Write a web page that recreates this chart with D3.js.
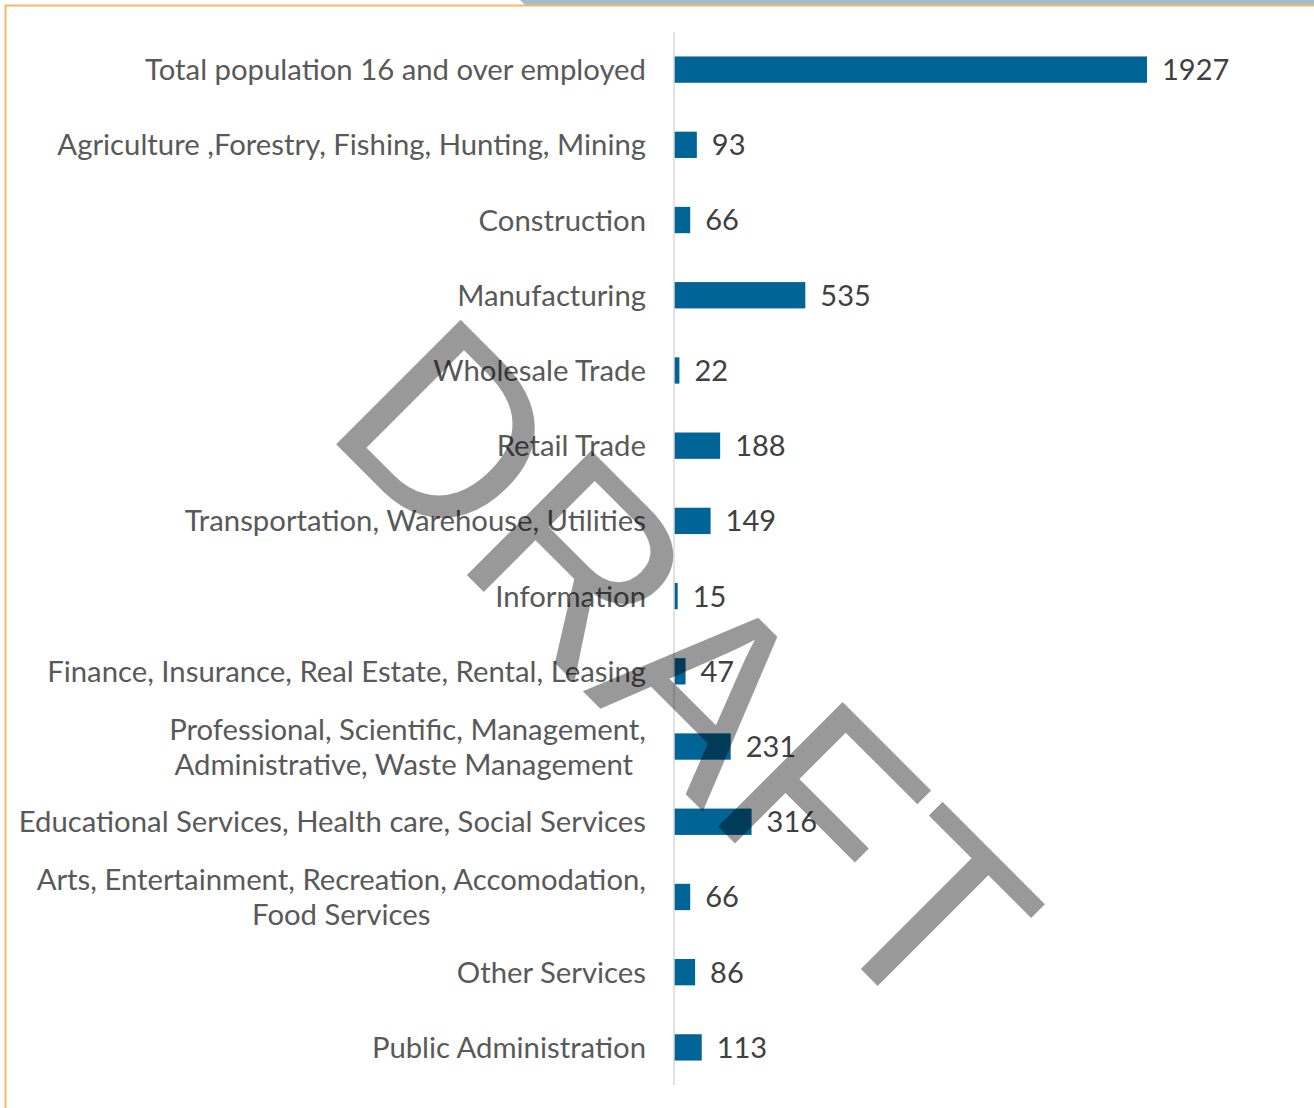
<!DOCTYPE html>
<html>
<head>
<meta charset="utf-8">
<script src="https://cdn.jsdelivr.net/npm/d3@7"></script>
<style>
  body { margin: 0; background: #ffffff; }
  text { font-family: Lato, "Open Sans", sans-serif; }
</style>
</head>
<body>
<script>
// industry categories, top to bottom
const categories = [
  "Total population 16 and over employed",
  "Agriculture ,Forestry, Fishing, Hunting, Mining",
  "Construction",
  "Manufacturing",
  "Wholesale Trade",
  "Retail Trade",
  "Transportation, Warehouse, Utilities",
  "Information",
  "Finance, Insurance, Real Estate, Rental, Leasing",
  "Professional, Scientific, Management,\nAdministrative, Waste Management ",
  "Educational Services, Health care, Social Services",
  "Arts, Entertainment, Recreation, Accomodation,\nFood Services",
  "Other Services",
  "Public Administration"
];
const values = [1927, 93, 66, 535, 22, 188, 149, 15, 47, 231, 316, 66, 86, 113];

const width = 1314, height = 1108;

const svg = d3.select("body").append("svg")
  .attr("width", width)
  .attr("height", height);

// strip of the page background above the frame
svg.append("path")
  .attr("d", "M 520 0 L 1314 0 L 1314 6 L 526 6 Z")
  .attr("fill", "#9fbfcc");

// orange frame
svg.append("path")
  .attr("d", "M 5.5 1108 V 5.5 H 1314")
  .attr("stroke", "#f5b868")
  .attr("stroke-width", 2)
  .attr("fill", "none");

const x = d3.scaleLinear()
  .domain([0, 1927])
  .range([674, 1147]);

const y = d3.scaleBand()
  .domain(categories)
  .range([32, 1085])
  .paddingInner(0.65)
  .paddingOuter(0.325);

// bars
svg.selectAll("rect.bar")
  .data(categories)
  .enter().append("rect")
  .attr("class", "bar")
  .attr("x", x(0))
  .attr("y", d => y(d))
  .attr("width", (d, i) => x(values[i]) - x(0))
  .attr("height", y.bandwidth())
  .attr("fill", "#006496");

// category axis line
svg.append("line")
  .attr("x1", x(0)).attr("x2", x(0))
  .attr("y1", 32).attr("y2", 1085)
  .attr("stroke", "#d9d9d9")
  .attr("stroke-width", 1.5);

// value labels
svg.selectAll("text.val")
  .data(categories)
  .enter().append("text")
  .attr("class", "val")
  .attr("x", (d, i) => x(values[i]) + 15)
  .attr("y", d => y(d) + y.bandwidth() / 2)
  .attr("dy", "0.36em")
  .attr("font-size", 29)
  .attr("fill", "#404040")
  .text((d, i) => values[i]);

// category labels (wrapped ones are centred as a block)
const labelRight = 646;
categories.forEach(c => {
  const lines = c.split("\n");
  const cy = y(c) + y.bandwidth() / 2;
  const g = svg.append("text")
    .attr("font-size", 29.3)
    .attr("fill", "#595959");
  if (lines.length === 1) {
    g.attr("x", labelRight).attr("y", cy).attr("dy", "0.36em")
      .attr("text-anchor", "end").text(c);
  } else {
    const spans = lines.map((l, k) => g.append("tspan")
      .attr("y", cy + (k - (lines.length - 1) / 2) * 35)
      .attr("dy", "0.36em")
      .style("white-space", "pre")
      .text(l));
    const w = d3.max(spans, s => s.node().getComputedTextLength());
    spans.forEach(s => s.attr("x", labelRight - w / 2).attr("text-anchor", "middle"));
  }
});

// DRAFT watermark
svg.append("text")
  .attr("transform", "translate(688,666) rotate(45)")
  .attr("text-anchor", "middle")
  .attr("dy", "0.36em")
  .style("font-family", "'Liberation Sans', Arial, sans-serif")
  .attr("font-size", 256)
  .attr("fill", "#000000")
  .attr("fill-opacity", 0.4)
  .text("DRAFT");
</script>
</body>
</html>
